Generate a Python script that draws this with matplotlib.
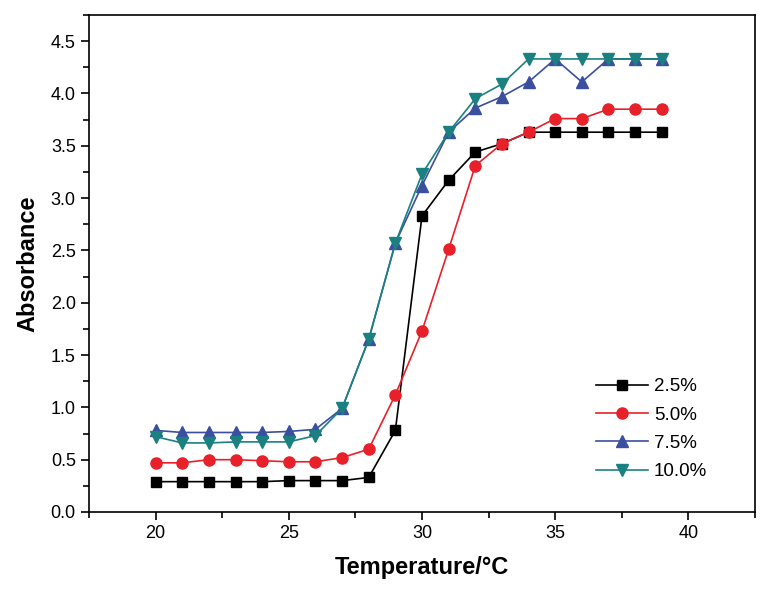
import matplotlib
matplotlib.use("Agg")
import matplotlib.pyplot as plt
from matplotlib.ticker import MultipleLocator, FormatStrFormatter

plt.rcParams['font.family'] = ['Liberation Sans', 'DejaVu Sans']

temperature = list(range(20, 40))
abs_2_5 = [0.29, 0.29, 0.29, 0.29, 0.29, 0.30, 0.30, 0.30, 0.33, 0.78,
           2.83, 3.17, 3.44, 3.52, 3.63, 3.63, 3.63, 3.63, 3.63, 3.63]
abs_5_0 = [0.47, 0.47, 0.50, 0.50, 0.49, 0.48, 0.48, 0.52, 0.60, 1.12,
           1.73, 2.51, 3.31, 3.52, 3.63, 3.76, 3.76, 3.85, 3.85, 3.85]
abs_7_5 = [0.78, 0.76, 0.76, 0.76, 0.76, 0.77, 0.79, 0.99, 1.65, 2.57,
           3.12, 3.63, 3.86, 3.97, 4.11, 4.33, 4.11, 4.33, 4.33, 4.33]
abs_10_0 = [0.72, 0.66, 0.66, 0.67, 0.67, 0.67, 0.73, 0.99, 1.65, 2.57,
            3.23, 3.63, 3.95, 4.09, 4.33, 4.33, 4.33, 4.33, 4.33, 4.33]
labels = ['2.5%', '5.0%', '7.5%', '10.0%']

W, H = 772, 598
fig = plt.figure(figsize=(W / 100, H / 100), dpi=100)
left, right, top, bottom = 89, 755, 15, 512
ax = fig.add_axes([left / W, 1 - bottom / H, (right - left) / W, (bottom - top) / H])

styles = [
    (abs_2_5, 's', '#000000', 7),
    (abs_5_0, 'o', '#E8202A', 8),
    (abs_7_5, '^', '#3A4FA0', 9),
    (abs_10_0, 'v', '#1A8080', 9),
]
for (vals, m, c, ms), lab in zip(styles, labels):
    ax.plot(temperature, vals, marker=m, color=c, markersize=ms, linewidth=1.2, label=lab)

ax.set_xlim(17.5, 42.5)
ax.set_ylim(0, 4.75)
ax.xaxis.set_major_locator(MultipleLocator(5))
ax.xaxis.set_minor_locator(MultipleLocator(2.5))
ax.yaxis.set_major_locator(MultipleLocator(0.5))
ax.yaxis.set_minor_locator(MultipleLocator(0.25))
ax.tick_params(which='both', direction='out', top=False, right=False, labelsize=13)
ax.tick_params(which='major', length=6, width=1.2)
ax.tick_params(which='minor', length=4, width=1.2)
ax.yaxis.set_major_formatter(FormatStrFormatter('%.1f'))
for s in ax.spines.values():
    s.set_linewidth(1.2)

ax.set_xlabel('Temperature/°C', fontsize=17, fontweight='bold', labelpad=10)
ax.set_ylabel('Absorbance', fontsize=17, fontweight='bold', labelpad=8)

ax.legend(loc='upper left', bbox_to_anchor=((596 - left) / (right - left), (bottom - 378) / (bottom - top)),
          frameon=False, fontsize=13.5, borderpad=0, borderaxespad=0,
          handlelength=2.8, labelspacing=0.6, handletextpad=0.3)

fig.savefig('out.png', dpi=100)
